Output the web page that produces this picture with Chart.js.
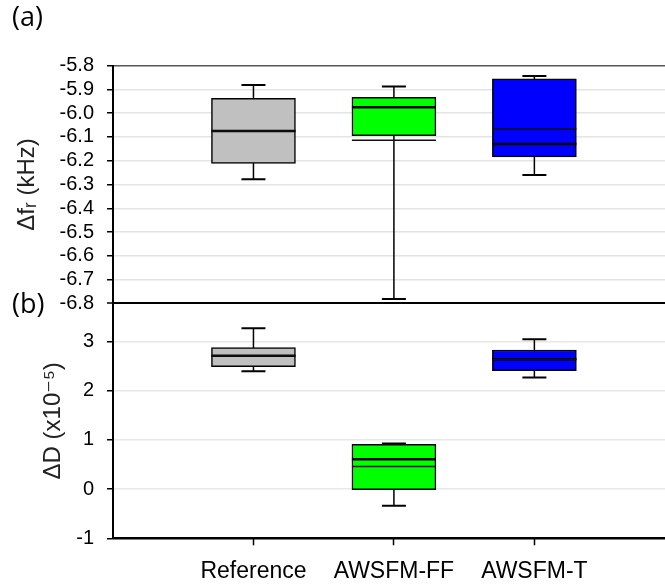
<!DOCTYPE html>
<html>
<head>
<meta charset="utf-8">
<script src="https://cdn.jsdelivr.net/npm/chart.js@4.4.0/dist/chart.umd.min.js"></script>
<style>
  html, body { margin: 0; padding: 0; background: #fff; }
  #wrap { position: relative; width: 665px; height: 587px; }
  #chart { position: absolute; left: 0; top: 0; }
  .panel { position: absolute; font-family: 'Open Sans', sans-serif; font-size: 27px; line-height: 27px; color: #000; }
</style>
</head>
<body>
<div id="wrap">
  <canvas id="chart" width="665" height="587"></canvas>
  <div class="panel" style="left:12px; top:2px;">(a)</div>
  <div class="panel" style="left:12px; top:289px;">(b)</div>
</div>
<script>
// Categorias e posições no eixo x
const categories = ['Reference', 'AWSFM-FF', 'AWSFM-T'];
const categoryPos = [1, 2, 3];
const boxColors = ['#c0c0c0', '#00ff00', '#0000ff'];

// (a) Δfr (kHz)
const freqMin    = [-6.278, -6.782, -6.260];
const freqQ1     = [-6.211, -6.095, -6.184];
const freqMedian = [-6.075, -5.975, -6.130];
const freqMean   = [-6.075, -6.114, -6.066];
const freqQ3     = [-5.937, -5.933, -5.855];
const freqMax    = [-5.881, -5.888, -5.843];
const freqTicks  = [-5.8, -5.9, -6.0, -6.1, -6.2, -6.3, -6.4, -6.5, -6.6, -6.7, -6.8];

// (b) ΔD (x10^-5)
const dissMin    = [2.40, -0.34, 2.27];
const dissQ1     = [2.49, -0.01, 2.41];
const dissMedian = [2.715, 0.61, 2.64];
const dissMean   = [2.715, 0.46, 2.64];
const dissQ3     = [2.88, 0.91, 2.83];
const dissMax    = [3.27, 0.93, 3.05];
const dissTicks  = [-1, 0, 1, 2, 3];

const FONT = "'Liberation Sans', Arial, 'DejaVu Sans', sans-serif";

// Caixa (Q1..Q3) como barra flutuante
function boxDataset(q1, q3, axis) {
  return {
    type: 'bar',
    yAxisID: axis,
    data: categoryPos.map((x, i) => ({ x, y: [q1[i], q3[i]] })),
    backgroundColor: boxColors,
    borderColor: '#000',
    borderWidth: 1.5,
    borderSkipped: false,
    barThickness: 84,
    grouped: false,
    order: 3
  };
}

// Bigodes (min..max), desenhados atrás da caixa
function whiskerDataset(lo, hi, axis) {
  const pts = [];
  categoryPos.forEach((x, i) => {
    pts.push({ x, y: hi[i] }, { x, y: lo[i] }, { x, y: null });
  });
  return {
    type: 'line',
    yAxisID: axis,
    data: pts,
    borderColor: '#000',
    borderWidth: 1.5,
    pointRadius: 0,
    spanGaps: false,
    order: 4
  };
}

// Linhas horizontais (mediana, média, extremos)
function markDataset(values, axis, radius, width, color) {
  return {
    type: 'scatter',
    yAxisID: axis,
    data: categoryPos.map((x, i) => ({ x, y: values[i] })),
    pointStyle: 'line',
    pointRadius: radius,
    pointHoverRadius: radius,
    borderColor: color,
    borderWidth: width,
    order: 1
  };
}

const near = (a, b) => Math.abs(a - b) < 1e-6;

const datasets = [
  whiskerDataset(freqMin, freqMax, 'yTop'),
  boxDataset(freqQ1, freqQ3, 'yTop'),
  markDataset(freqMax, 'yTop', 12, 2, '#000'),
  markDataset(freqMin, 'yTop', 12, 2, '#000'),
  markDataset(freqMean, 'yTop', 42, 1.5, '#111'),
  markDataset(freqMedian, 'yTop', 42, 2.5, '#000'),

  whiskerDataset(dissMin, dissMax, 'yBot'),
  boxDataset(dissQ1, dissQ3, 'yBot'),
  markDataset(dissMax, 'yBot', 12, 2, '#000'),
  markDataset(dissMin, 'yBot', 12, 2, '#000'),
  markDataset(dissMean, 'yBot', 42, 1.5, '#111'),
  markDataset(dissMedian, 'yBot', 42, 2.5, '#000')
];

const tickFont = { family: FONT, size: 20 };
const titleFont = { family: FONT, size: 24 };

new Chart(document.getElementById('chart'), {
  type: 'bar',
  data: { datasets },
  options: {
    responsive: false,
    animation: false,
    layout: { autoPadding: false, padding: { top: 65.7, left: 0, right: 0, bottom: 0 } },
    plugins: {
      legend: { display: false },
      tooltip: { enabled: false }
    },
    scales: {
      x: {
        type: 'linear',
        offset: false,
        min: 0,
        max: 3.93,
        afterBuildTicks: axis => { axis.ticks = categoryPos.map(v => ({ value: v })); },
        afterFit: axis => {
          axis.height = 48.7;
          axis.paddingLeft = 0;
          axis.paddingRight = 0;
        },
        ticks: {
          callback: v => categories[categoryPos.indexOf(v)],
          font: { family: FONT, size: 23 },
          color: '#000',
          padding: 13,
          maxRotation: 0,
          autoSkip: false
        },
        grid: { offset: false, drawOnChartArea: false, tickLength: 7, tickColor: '#000', tickWidth: 1.5 },
        border: { color: '#000', width: 2 }
      },
      yTop: {
        type: 'linear',
        position: 'left',
        stack: 'panels',
        stackWeight: 237.6,
        weight: 1,
        min: -6.8,
        max: -5.8,
        afterBuildTicks: axis => { axis.ticks = freqTicks.map(v => ({ value: v })); },
        afterFit: axis => { axis.width = 113; },
        ticks: { callback: v => v.toFixed(1), font: tickFont, color: '#000', padding: 13, autoSkip: false },
        grid: {
          color: c => near(c.tick.value, -6.8) ? '#000' : near(c.tick.value, -5.8) ? '#555' : '#e4e4e4',
          lineWidth: c => near(c.tick.value, -6.8) ? 2 : 1.5,
          tickLength: 6,
          tickColor: '#000',
          tickWidth: 1.5
        },
        border: { color: '#000', width: 2 },
        title: { display: true, text: 'Δfᵣ (kHz)', font: titleFont, color: '#222', padding: { top: 13, bottom: 0 } }
      },
      yBot: {
        type: 'linear',
        position: 'left',
        stack: 'panels',
        stackWeight: 235,
        weight: 0,
        min: -1,
        max: 3.78,
        afterBuildTicks: axis => { axis.ticks = dissTicks.map(v => ({ value: v })); },
        afterFit: axis => { axis.width = 113; },
        ticks: { callback: v => String(v), font: tickFont, color: '#000', padding: 13, autoSkip: false },
        grid: {
          color: c => c.tick.value === -1 ? '#000' : '#e8e8e8',
          lineWidth: 1.5,
          tickLength: 6,
          tickColor: '#000',
          tickWidth: 1.5
        },
        border: { color: '#000', width: 2 },
        title: { display: true, text: 'ΔD (x10⁻⁵)', font: titleFont, color: '#222', padding: { top: 39, bottom: 0 } }
      }
    }
  }
});
</script>
</body>
</html>
